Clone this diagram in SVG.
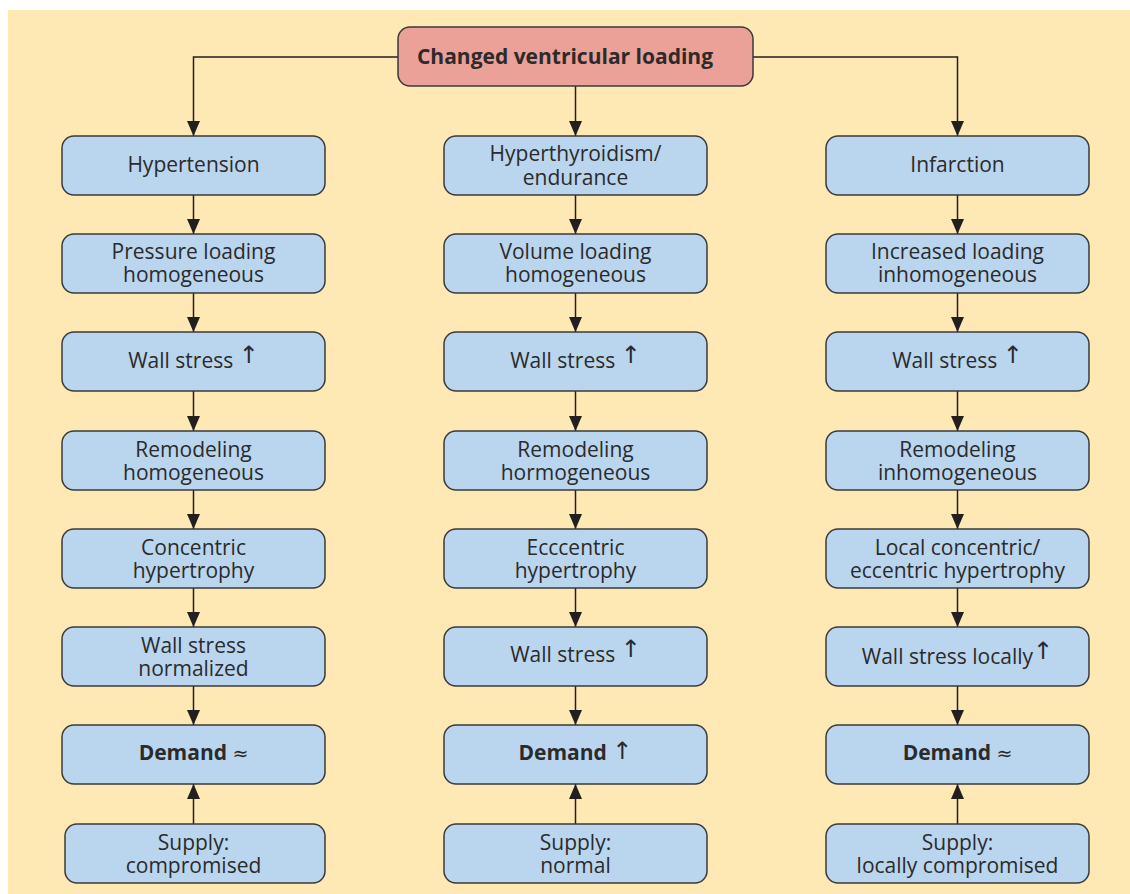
<svg xmlns="http://www.w3.org/2000/svg" width="1130" height="894" viewBox="0 0 1130 894">
<defs>
<marker id="ah" markerUnits="userSpaceOnUse" markerWidth="15" markerHeight="13" viewBox="0 0 15 13" refX="15" refY="6.5" orient="auto">
<path d="M0,0 L15,6.5 L0,13 z" fill="#231f20"/>
</marker>
<style>
.bx{fill:#bad5ee;stroke:#3a3a3a;stroke-width:1.5}
.top{fill:#eba098;stroke:#3a3a3a;stroke-width:1.5}
.t{font-family:"Open Sans","Noto Sans","DejaVu Sans",sans-serif;font-size:21px;fill:#2b2b2b;text-anchor:middle}
.b{font-weight:bold}
.sym{font-family:"DejaVu Sans",sans-serif;font-weight:normal;font-size:19px}
.up{font-family:"DejaVu Sans",sans-serif;font-weight:normal;font-size:24px}
.c{fill:none;stroke:#231f20;stroke-width:1.5;marker-end:url(#ah)}
</style>
</defs>
<rect x="8" y="10" width="1122" height="884" fill="#fee8b3"/>

<g id="connectors">
<path class="c" d="M398,57 H193.5 V136"/>
<path class="c" d="M753,57 H957.5 V136"/>
<path class="c" d="M575.5,86 V136"/>
<path class="c" d="M193.5,195 V234"/><path class="c" d="M193.5,293 V332"/><path class="c" d="M193.5,391 V431"/><path class="c" d="M193.5,490 V529"/><path class="c" d="M193.5,588 V627"/><path class="c" d="M193.5,686 V725"/><path class="c" d="M193.5,824 V784"/>
<path class="c" d="M575.5,195 V234"/><path class="c" d="M575.5,293 V332"/><path class="c" d="M575.5,391 V431"/><path class="c" d="M575.5,490 V529"/><path class="c" d="M575.5,588 V627"/><path class="c" d="M575.5,686 V725"/><path class="c" d="M575.5,824 V784"/>
<path class="c" d="M957.5,195 V234"/><path class="c" d="M957.5,293 V332"/><path class="c" d="M957.5,391 V431"/><path class="c" d="M957.5,490 V529"/><path class="c" d="M957.5,588 V627"/><path class="c" d="M957.5,686 V725"/><path class="c" d="M957.5,824 V784"/>
</g>

<g id="n-top"><rect class="top" x="398" y="27" width="355" height="59" rx="12"/><text class="t b" x="565" y="64" font-size="22.5">Changed ventricular loading</text></g>

<g id="n-l1"><rect class="bx" x="62" y="136" width="263" height="59" rx="12"/><text class="t" x="193.5" y="172">Hypertension</text></g>
<g id="n-l2"><rect class="bx" x="62" y="234" width="263" height="59" rx="12"/><text class="t" x="193.5" y="259">Pressure loading<tspan x="193.5" dy="23">homogeneous</tspan></text></g>
<g id="n-l3"><rect class="bx" x="62" y="332" width="263" height="59" rx="12"/><text class="t" x="193.5" y="368">Wall stress <tspan class="up" dy="-5">↑</tspan></text></g>
<g id="n-l4"><rect class="bx" x="62" y="431" width="263" height="59" rx="12"/><text class="t" x="193.5" y="457">Remodeling<tspan x="193.5" dy="23">homogeneous</tspan></text></g>
<g id="n-l5"><rect class="bx" x="62" y="529" width="263" height="59" rx="12"/><text class="t" x="193.5" y="555">Concentric<tspan x="193.5" dy="23">hypertrophy</tspan></text></g>
<g id="n-l6"><rect class="bx" x="62" y="627" width="263" height="59" rx="12"/><text class="t" x="193.5" y="653">Wall stress<tspan x="193.5" dy="23">normalized</tspan></text></g>
<g id="n-l7"><rect class="bx" x="62" y="725" width="263" height="59" rx="12"/><text class="t" x="193.5" y="760"><tspan class="b">Demand</tspan> <tspan class="sym">≈</tspan></text></g>
<g id="n-l8"><rect class="bx" x="65" y="824" width="260" height="59" rx="12"/><text class="t" x="193.5" y="850">Supply:<tspan x="193.5" dy="23">compromised</tspan></text></g>

<g id="n-m1"><rect class="bx" x="444" y="136" width="263" height="59" rx="12"/><text class="t" x="575.5" y="161">Hyperthyroidism/<tspan x="575.5" dy="24">endurance</tspan></text></g>
<g id="n-m2"><rect class="bx" x="444" y="234" width="263" height="59" rx="12"/><text class="t" x="575.5" y="259">Volume loading<tspan x="575.5" dy="23">homogeneous</tspan></text></g>
<g id="n-m3"><rect class="bx" x="444" y="332" width="263" height="59" rx="12"/><text class="t" x="575.5" y="368">Wall stress <tspan class="up" dy="-5">↑</tspan></text></g>
<g id="n-m4"><rect class="bx" x="444" y="431" width="263" height="59" rx="12"/><text class="t" x="575.5" y="457">Remodeling<tspan x="575.5" dy="23">hormogeneous</tspan></text></g>
<g id="n-m5"><rect class="bx" x="444" y="529" width="263" height="59" rx="12"/><text class="t" x="575.5" y="555">Ecccentric<tspan x="575.5" dy="23">hypertrophy</tspan></text></g>
<g id="n-m6"><rect class="bx" x="444" y="627" width="263" height="59" rx="12"/><text class="t" x="575.5" y="662">Wall stress <tspan class="up" dy="-5">↑</tspan></text></g>
<g id="n-m7"><rect class="bx" x="444" y="725" width="263" height="59" rx="12"/><text class="t" x="575.5" y="760"><tspan class="b">Demand</tspan> <tspan class="up" dy="-1">↑</tspan></text></g>
<g id="n-m8"><rect class="bx" x="444" y="824" width="263" height="59" rx="12"/><text class="t" x="575.5" y="850">Supply:<tspan x="575.5" dy="23">normal</tspan></text></g>

<g id="n-r1"><rect class="bx" x="826" y="136" width="263" height="59" rx="12"/><text class="t" x="957.5" y="172">Infarction</text></g>
<g id="n-r2"><rect class="bx" x="826" y="234" width="263" height="59" rx="12"/><text class="t" x="957.5" y="259">Increased loading<tspan x="957.5" dy="23">inhomogeneous</tspan></text></g>
<g id="n-r3"><rect class="bx" x="826" y="332" width="263" height="59" rx="12"/><text class="t" x="957.5" y="368">Wall stress <tspan class="up" dy="-5">↑</tspan></text></g>
<g id="n-r4"><rect class="bx" x="826" y="431" width="263" height="59" rx="12"/><text class="t" x="957.5" y="457">Remodeling<tspan x="957.5" dy="23">inhomogeneous</tspan></text></g>
<g id="n-r5"><rect class="bx" x="826" y="529" width="263" height="59" rx="12"/><text class="t" x="957.5" y="555">Local concentric/<tspan x="957.5" dy="23">eccentric hypertrophy</tspan></text></g>
<g id="n-r6"><rect class="bx" x="826" y="627" width="263" height="59" rx="12"/><text class="t" x="957.5" y="664">Wall stress locally<tspan class="up" dy="-5">↑</tspan></text></g>
<g id="n-r7"><rect class="bx" x="826" y="725" width="263" height="59" rx="12"/><text class="t" x="957.5" y="760"><tspan class="b">Demand</tspan> <tspan class="sym">≈</tspan></text></g>
<g id="n-r8"><rect class="bx" x="826" y="824" width="263" height="59" rx="12"/><text class="t" x="957.5" y="850">Supply:<tspan x="957.5" dy="23">locally compromised</tspan></text></g>
</svg>
